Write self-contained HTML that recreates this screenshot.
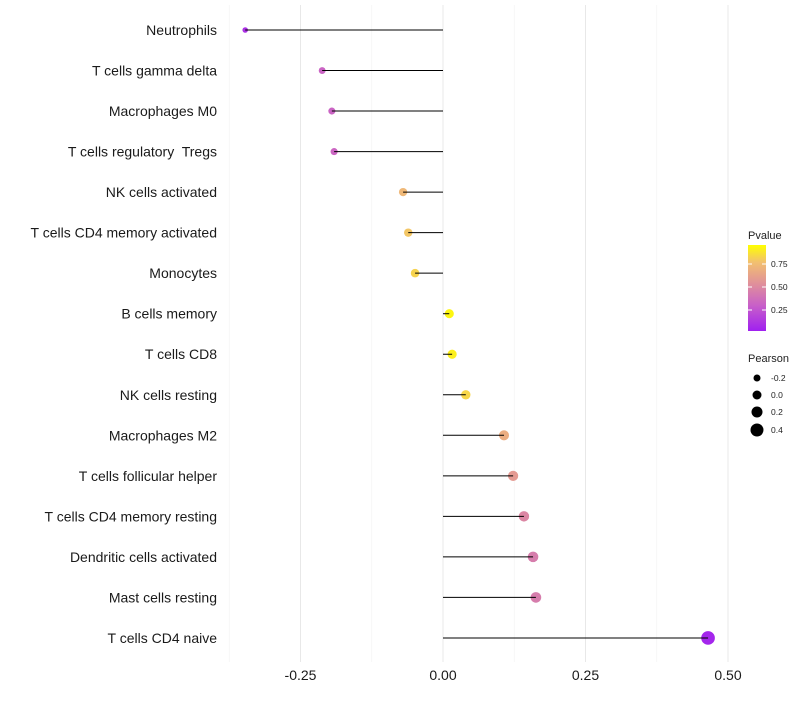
<!DOCTYPE html>
<html><head><meta charset="utf-8"><style>
body{margin:0;background:#fff;font-family:"Liberation Sans",sans-serif}
text{white-space:pre}
</style></head><body>
<svg id="c" width="800" height="700" xmlns="http://www.w3.org/2000/svg">
<defs><linearGradient id="pg" x1="0" y1="1" x2="0" y2="0">
<stop offset="0" stop-color="#a020f0"/><stop offset="0.3" stop-color="#c860c8"/><stop offset="0.55" stop-color="#e0909a"/><stop offset="0.8" stop-color="#f2c070"/><stop offset="1" stop-color="#ffff00"/></linearGradient></defs>
</svg>
<script>
const categories=["Neutrophils","T cells gamma delta","Macrophages M0","T cells regulatory  Tregs","NK cells activated","T cells CD4 memory activated","Monocytes","B cells memory","T cells CD8","NK cells resting","Macrophages M2","T cells follicular helper","T cells CD4 memory resting","Dendritic cells activated","Mast cells resting","T cells CD4 naive"];
const pearson=[-0.347,-0.212,-0.195,-0.191,-0.070,-0.061,-0.049,0.011,0.016,0.040,0.107,0.123,0.142,0.158,0.163,0.465];
const pvalues=[0.08,0.32,0.32,0.33,0.76,0.82,0.86,0.97,0.95,0.87,0.70,0.60,0.50,0.45,0.45,0.03];
const xTicks=[-0.25,0,0.25,0.5];
const xTickLabels=["-0.25","0.00","0.25","0.50"];
const NS="http://www.w3.org/2000/svg",svg=document.getElementById('c');
const x=v=>443+v*570, y=i=>30+i*40.53;
function mk(t,a){const e=document.createElementNS(NS,t);for(const k in a)e.setAttribute(k,a[k]);svg.appendChild(e);return e;}
function lerp(a,b,t){return a.map((v,i)=>Math.round(v+(b[i]-v)*t));}
const stops=[[0,[160,32,240]],[0.3,[200,96,200]],[0.55,[224,144,154]],[0.8,[242,192,112]],[1,[255,255,0]]];
function col(p){for(let i=1;i<stops.length;i++){if(p<=stops[i][0]){const t=(p-stops[i-1][0])/(stops[i][0]-stops[i-1][0]);const c=lerp(stops[i-1][1],stops[i][1],t);return `rgb(${c})`;}}return 'rgb(255,255,0)';}
[-0.375,-0.125,0.125,0.375].forEach(v=>{const g=mk('line',{x1:x(v),x2:x(v),y1:5,y2:662,stroke:'#f2f2f2','stroke-width':0.6});

});
xTicks.forEach((v,i)=>{const g=mk('line',{x1:x(v),x2:x(v),y1:5,y2:662,stroke:'#e8e8e8','stroke-width':1});


const t=mk('text',{x:x(v),y:680,'text-anchor':'middle','font-size':14,fill:'#1a1a1a'});t.textContent=xTickLabels[i];

});
categories.forEach((c,i)=>{
const t=mk('text',{x:217,y:y(i)+5,'text-anchor':'end','font-size':14,fill:'#1a1a1a'});t.textContent=c;


const r=Math.max(1.8,4.5+5*pearson[i]);
const d=mk('circle',{cx:x(pearson[i]),cy:y(i),r:r,fill:col(pvalues[i])});


const l=mk('line',{x1:x(0),x2:x(pearson[i]),y1:y(i),y2:y(i),stroke:'#000','stroke-width':1});


});
let t=mk('text',{x:748,y:239,'font-size':11,fill:'#222'});t.textContent='Pvalue';


const bar=mk('rect',{x:748,y:245,width:18,height:86,fill:'url(#pg)'});


[[0.75,264],[0.50,287],[0.25,310]].forEach(([v,yy])=>{mk('line',{x1:748,x2:752,y1:yy,y2:yy,stroke:'#fff'});mk('line',{x1:762,x2:766,y1:yy,y2:yy,stroke:'#fff'});
const s=mk('text',{x:771,y:yy+3,'font-size':8.5,fill:'#222'});s.textContent=v.toFixed(2);

});
t=mk('text',{x:748,y:362,'font-size':11,fill:'#222'});t.textContent='Pearson';


[[-0.2,378],[0,395],[0.2,412],[0.4,430]].forEach(([v,yy])=>{const c=mk('circle',{cx:757,cy:yy,r:4.5+5*v,fill:'#000'});


const s=mk('text',{x:771,y:yy+3,'font-size':8.5,fill:'#222'});s.textContent=v.toFixed(1);

});
</script>
</body></html>
